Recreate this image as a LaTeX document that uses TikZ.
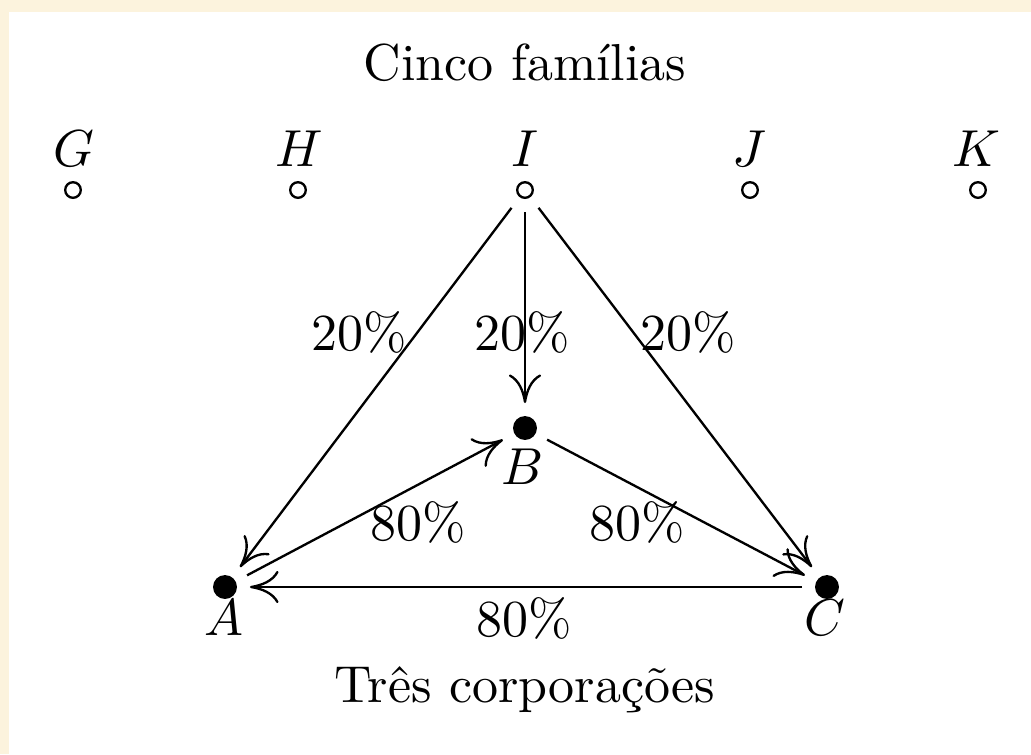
\documentclass[tikz,border=0pt]{standalone}
\usepackage{fontspec}
\usetikzlibrary{arrows.meta}
\definecolor{cream}{RGB}{252,243,221}
\begin{document}
\begin{tikzpicture}[x=0.19231pt,y=-0.19231pt,
  fam/.style={circle,draw,line width=0.45pt,minimum size=3pt,inner sep=0pt,outer sep=2.8pt},
  corp/.style={circle,fill,minimum size=4.6pt,inner sep=0pt,outer sep=2.5pt},
  conn/.style={-{Computer Modern Rightarrow[length=5.5pt,width=6.2pt]},line width=0.45pt},
  lbl/.style={anchor=base,inner sep=0pt}]
\fill[cream] (0,0) rectangle (1031,754);
\fill[white] (9,12) rectangle (1031,754);
\useasboundingbox (0,0) rectangle (1031,754);
% titles
\node[lbl] (title) at (525,80) {Cinco famílias};
\node[lbl] (bottom) at (525,702) {Três corporações};
% families
\node[fam] (G) at (73,190) {};
\node[fam] (H) at (298,190) {};
\node[fam] (I) at (525,190) {};
\node[fam] (J) at (750,190) {};
\node[fam] (K) at (978,190) {};
\node[lbl] (Gl) at (74,166) {$G$};
\node[lbl] (Hl) at (299,166) {$H$};
\node[lbl] (Il) at (525,166) {$I$};
\node[lbl] (Jl) at (749,166) {$J$};
\node[lbl] (Kl) at (976,166) {$K$};
% corporations
\node[lbl] (Al) at (224,635) {$A$};
\node[lbl] (Bl) at (523,484) {$B$};
\node[lbl] (Cl) at (825,635) {$C$};
\node[corp] (A) at (225,587) {};
\node[corp] (B) at (525,428) {};
\node[corp] (C) at (827,587) {};
% connectors
\draw[conn] (I) -- (A);
\draw[conn] (I) -- (B);
\draw[conn] (I) -- (C);
\draw[conn] (A) -- (B);
\draw[conn] (B) -- (C);
\draw[conn] (C) -- (A);
% percentages
\node[lbl] (p1) at (359,350) {20\%};
\node[lbl] (p2) at (522,350) {20\%};
\node[lbl] (p3) at (688,350) {20\%};
\node[lbl] (p4) at (418,540) {80\%};
\node[lbl] (p5) at (637,540) {80\%};
\node[lbl] (p6) at (524,636) {80\%};
\end{tikzpicture}
\end{document}
